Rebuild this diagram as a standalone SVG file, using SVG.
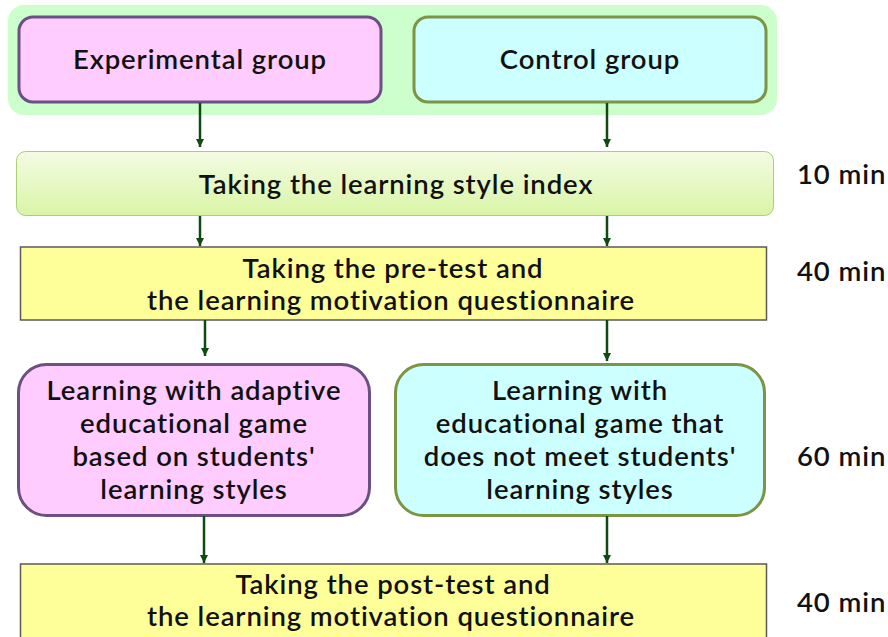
<svg xmlns="http://www.w3.org/2000/svg" width="888" height="637" viewBox="0 0 888 637">
  <defs>
    <linearGradient id="gLsi" x1="0" y1="0" x2="0" y2="1">
      <stop offset="0" stop-color="#f4fbe4"/>
      <stop offset="1" stop-color="#d9f5a6"/>
    </linearGradient>
    <marker id="arrow" viewBox="0 0 10 10" refX="10" refY="5" markerWidth="8" markerHeight="8" markerUnits="userSpaceOnUse" orient="auto">
      <path d="M0,0 L10,5 L0,10 Z" fill="#0f4a10"/>
    </marker>
  </defs>
  <style>
    text { font-family: "Lato", "Open Sans", "Liberation Sans", sans-serif; font-size: 27.5px; font-weight: 600; letter-spacing: 0.9px; font-variant-ligatures: none; fill: #111; text-anchor: middle; }
    .time { text-anchor: start; }
    .exp { fill: #ffccff; stroke: #6b5083; stroke-width: 3; }
    .ctl { fill: #ccffff; stroke: #7d9444; stroke-width: 3; }
    .bar { fill: #ffff99; stroke: #5a5a5a; stroke-width: 1.5; }
    .conn line { stroke: #0f4a10; stroke-width: 2.5; marker-end: url(#arrow); }
  </style>

  <!-- group panel -->
  <g id="groups">
    <rect x="8" y="5" width="769" height="110" rx="16" fill="#ccffcc"/>
  </g>
  <g id="experimental">
    <rect class="exp" x="19" y="17" width="362" height="85" rx="14"/>
    <text x="200" y="69">Experimental group</text>
  </g>
  <g id="control">
    <rect class="ctl" x="414" y="17" width="352" height="85" rx="14"/>
    <text x="590" y="69">Control group</text>
  </g>

  <!-- learning style index -->
  <g id="lsi">
    <rect x="16.5" y="151.5" width="757" height="64" rx="9" fill="url(#gLsi)" stroke="#a9cf74" stroke-width="1"/>
    <text x="396" y="194">Taking the learning style index</text>
  </g>

  <!-- pre-test -->
  <g id="pretest">
    <rect class="bar" x="20.5" y="247" width="746" height="73"/>
    <text x="393" y="278">Taking the pre-test and</text>
    <text x="391" y="310">the learning motivation questionnaire</text>
  </g>

  <!-- treatments -->
  <g id="adaptive">
    <rect class="exp" x="18.5" y="364.5" width="351" height="151" rx="28"/>
    <text x="194" y="400">Learning with adaptive</text>
    <text x="194" y="433">educational game</text>
    <text x="194" y="466">based on students'</text>
    <text x="194" y="499">learning styles</text>
  </g>
  <g id="nonadaptive">
    <rect class="ctl" x="395.5" y="364.5" width="369" height="151" rx="28"/>
    <text x="580" y="400">Learning with</text>
    <text x="580" y="433">educational game that</text>
    <text x="580" y="466">does not meet students'</text>
    <text x="580" y="499">learning styles</text>
  </g>

  <!-- post-test -->
  <g id="posttest">
    <rect class="bar" x="20.5" y="564" width="746" height="80"/>
    <text x="393" y="594">Taking the post-test and</text>
    <text x="391" y="626">the learning motivation questionnaire</text>
  </g>

  <!-- durations -->
  <g id="durations">
    <text class="time" x="797" y="184">10 min</text>
    <text class="time" x="797" y="281">40 min</text>
    <text class="time" x="797" y="466">60 min</text>
    <text class="time" x="797" y="612">40 min</text>
  </g>

  <g class="conn" id="connectors">
    <line x1="200" y1="103" x2="200" y2="147"/>
    <line x1="607" y1="103" x2="607" y2="147"/>
    <line x1="200" y1="216" x2="200" y2="246"/>
    <line x1="607" y1="216" x2="607" y2="246"/>
    <line x1="205" y1="320" x2="205" y2="356"/>
    <line x1="607" y1="320" x2="607" y2="361"/>
    <line x1="204" y1="516" x2="204" y2="563"/>
    <line x1="607" y1="516" x2="607" y2="563"/>
  </g>
</svg>
